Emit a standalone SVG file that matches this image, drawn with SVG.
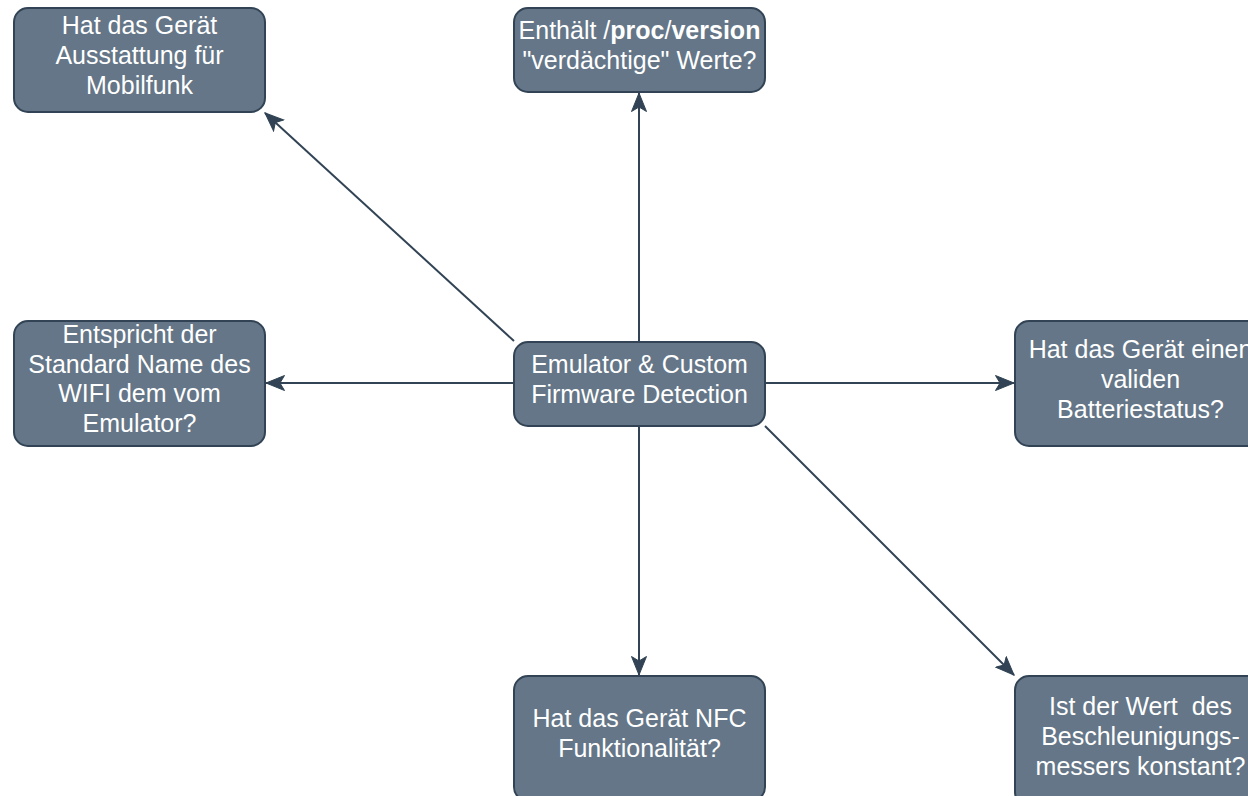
<svg xmlns="http://www.w3.org/2000/svg" width="1248" height="796" viewBox="0 0 1248 796">
<defs>
<style>
.box{fill:#647687;stroke:#314354;stroke-width:2}
.t{font-family:"Liberation Sans",Helvetica,Arial,sans-serif;font-size:25px;fill:#ffffff;text-anchor:middle;white-space:pre}
.b{font-weight:bold}
.c{stroke:#314354;stroke-width:2;fill:none;marker-end:url(#arr)}
</style>
<marker id="arr" markerUnits="userSpaceOnUse" markerWidth="22" markerHeight="18" refX="19" refY="8" orient="auto" viewBox="0 0 22 18">
<path d="M0.5,0.5 L19,8 L0.5,15.5 L5,8 Z" fill="#314354" stroke="#314354" stroke-width="1"/>
</marker>
</defs>
<rect width="1248" height="796" fill="#ffffff"/>
<g id="connectors">
<line class="c" x1="639" y1="342" x2="639" y2="93"/>
<line class="c" x1="514" y1="383" x2="266" y2="383"/>
<line class="c" x1="765" y1="383" x2="1014" y2="383"/>
<line class="c" x1="639" y1="426" x2="639" y2="675"/>
<line class="c" x1="514" y1="341" x2="265" y2="113"/>
<line class="c" x1="765" y1="426" x2="1014" y2="675"/>
</g>
<g id="center">
<rect class="box" x="514" y="342" width="251" height="84" rx="14"/>
<text class="t" x="639.5" y="373">Emulator &amp; Custom</text>
<text class="t" x="639.5" y="403">Firmware Detection</text>
</g>
<g id="mobilfunk">
<rect class="box" x="14" y="8" width="251" height="104" rx="14"/>
<text class="t" x="139.5" y="34">Hat das Gerät</text>
<text class="t" x="139.5" y="64">Ausstattung für</text>
<text class="t" x="139.5" y="94">Mobilfunk</text>
</g>
<g id="procversion">
<rect class="box" x="514" y="8" width="251" height="84" rx="14"/>
<text class="t" x="639.5" y="39">Enthält /<tspan class="b">proc</tspan>/<tspan class="b">version</tspan></text>
<text class="t" x="639.5" y="69">"verdächtige" Werte?</text>
</g>
<g id="wifi">
<rect class="box" x="14" y="321" width="251" height="125" rx="14"/>
<text class="t" x="139.5" y="343">Entspricht der</text>
<text class="t" x="139.5" y="373">Standard Name des</text>
<text class="t" x="139.5" y="402">WIFI dem vom</text>
<text class="t" x="139.5" y="432">Emulator?</text>
</g>
<g id="batterie">
<rect class="box" x="1015" y="321" width="251" height="125" rx="14"/>
<text class="t" x="1140.5" y="358">Hat das Gerät einen</text>
<text class="t" x="1140.5" y="388">validen</text>
<text class="t" x="1140.5" y="418">Batteriestatus?</text>
</g>
<g id="nfc">
<rect class="box" x="514" y="676" width="251" height="125" rx="14"/>
<text class="t" x="639.5" y="727">Hat das Gerät NFC</text>
<text class="t" x="639.5" y="757">Funktionalität?</text>
</g>
<g id="beschleunigung">
<rect class="box" x="1015" y="676" width="251" height="130" rx="14"/>
<text class="t" x="1140.5" y="715">Ist der Wert  des</text>
<text class="t" x="1140.5" y="745">Beschleunigungs-</text>
<text class="t" x="1140.5" y="775">messers konstant?</text>
</g>
</svg>
